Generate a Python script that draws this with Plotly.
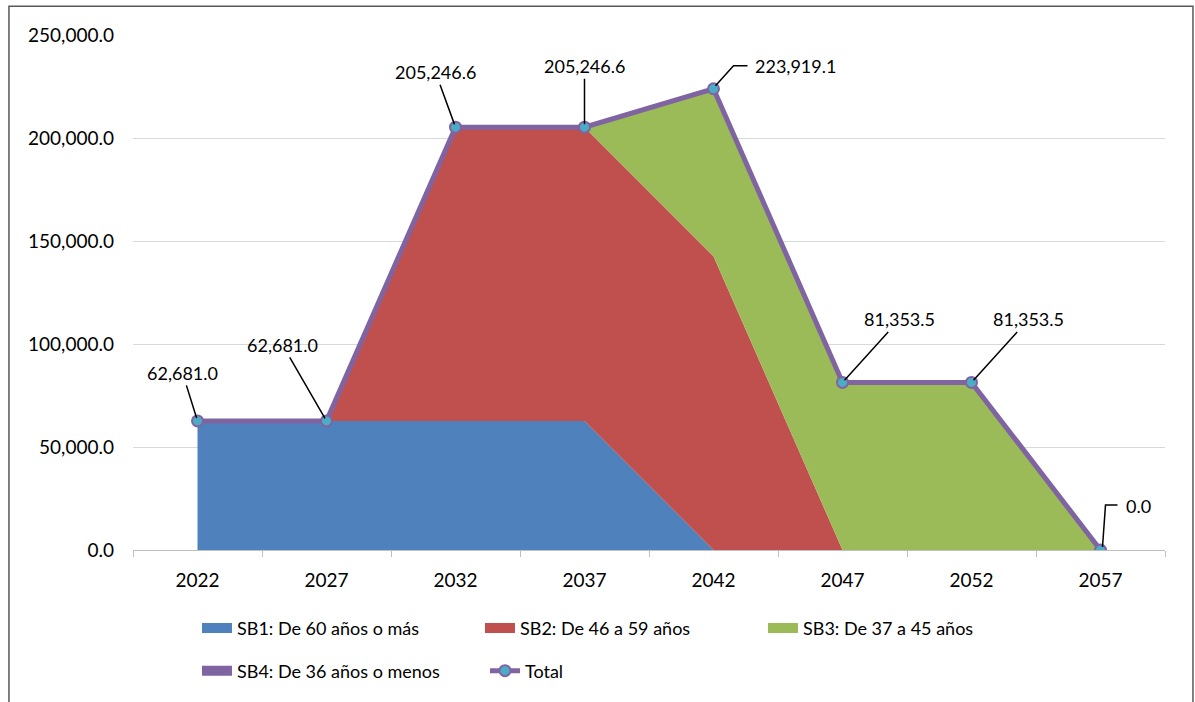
import plotly.graph_objects as go

years = ["2022", "2027", "2032", "2037", "2042", "2047", "2052", "2057"]
sb1 = [62681.0, 62681.0, 62681.0, 62681.0, 0.0, 0.0, 0.0, 0.0]
sb2 = [0.0, 0.0, 142565.6, 142565.6, 142565.6, 0.0, 0.0, 0.0]
sb3 = [0.0, 0.0, 0.0, 0.0, 81353.5, 81353.5, 81353.5, 0.0]
sb4 = [0.0, 0.0, 0.0, 0.0, 0.0, 0.0, 0.0, 0.0]
total = [62681.0, 62681.0, 205246.6, 205246.6, 223919.1, 81353.5, 81353.5, 0.0]

names = ["SB1: De 60 años o más", "SB2: De 46 a 59 años", "SB3: De 37 a 45 años", "SB4: De 36 años o menos"]
colors = ["#4F81BD", "#C0504D", "#9BBB59", "#8064A2"]

# label offsets (pixels) for the Total data labels; elbow = leader line with a bend
label_ax = [-15, -44, -20, 0, 82, 57, 57, 38]
label_ay = [-48, -76, -55, -61, -23, -63, -63, -44]
label_elbow = [False, False, False, False, True, False, False, True]
elbow_pts = {4: (20, 23, 34), 7: (5, 45, 17)}

FONT = "Lato"
FS = 18

fig = go.Figure()
for i, (nm, vals, c) in enumerate(zip(names, [sb1, sb2, sb3, sb4], colors)):
    fig.add_trace(go.Scatter(
        x=years, y=vals, name=nm, mode="lines", stackgroup="one",
        line=dict(width=0, color=c), fillcolor=c, hoverinfo="skip",
        showlegend=False, legendgroup=nm,
    ))
# legend entries (thick swatches)
for i, (nm, c) in enumerate(zip(names, colors)):
    fig.add_trace(go.Scatter(
        x=[None], y=[None], name=nm, mode="lines",
        line=dict(width=10, color=c), legendgroup=nm,
        legend="legend" if i < 3 else "legend2",
    ))

fig.add_trace(go.Scatter(
    x=years, y=total, name="Total", mode="lines+markers",
    line=dict(color="#8064A2", width=5),
    marker=dict(size=11, color="#4BACC6", line=dict(color="#8064A2", width=2)),
    legend="legend2",
))

for i, (yv, ax, ay, elb) in enumerate(zip(total, label_ax, label_ay, label_elbow)):
    txt = f"{yv:,.1f}"
    if elb:
        fig.add_annotation(
            x=i, y=yv, xref="x", yref="y", text=txt, showarrow=False,
            xshift=ax, yshift=-ay,
            font=dict(family=FONT, size=FS, color="black"),
        )
        ex, ey, hx = elbow_pts[i]
        fig.add_shape(
            type="path", xref="x", yref="y",
            xsizemode="pixel", ysizemode="pixel", xanchor=i, yanchor=yv,
            path=f"M2,3 L{ex},{ey} L{hx},{ey}",
            line=dict(color="black", width=1.5),
        )
    else:
        fig.add_annotation(
            x=i, y=yv, xref="x", yref="y", text=txt, showarrow=True, arrowhead=0,
            arrowwidth=1.5, arrowcolor="black", ax=ax, ay=ay,
            font=dict(family=FONT, size=FS, color="black"), standoff=3,
        )

fig.add_shape(type="rect", xref="paper", yref="paper",
              x0=-0.1202, x1=1.0271, y0=-0.33, y1=1.056,
              line=dict(color="#595959", width=1.5), fillcolor="rgba(0,0,0,0)", layer="below")

leg_common = dict(
    orientation="h", xanchor="left", yanchor="top",
    entrywidthmode="pixels", traceorder="normal",
    font=dict(family=FONT, size=FS, color="black"), itemwidth=30,
    bgcolor="rgba(0,0,0,0)",
)

fig.update_layout(
    width=1195, height=702,
    margin=dict(l=133, r=30, t=35, b=150),
    paper_bgcolor="white", plot_bgcolor="white",
    font=dict(family=FONT, size=FS, color="black"),
    showlegend=True,
    legend=dict(x=0.062, y=-0.116, entrywidth=238, **leg_common),
    legend2=dict(x=0.062, y=-0.199, entrywidth=243, **leg_common),
    xaxis=dict(
        type="category", range=[-0.5, 7.5], showgrid=False,
        showline=True, linecolor="#BFBFBF", linewidth=1,
        ticks="outside", tickson="boundaries", ticklen=6, tickcolor="#BFBFBF",
        ticklabelstandoff=13,
        tickfont=dict(family=FONT, size=19, color="black"),
    ),
    yaxis=dict(
        range=[0, 250000], dtick=50000, tickformat=",.1f",
        showgrid=True, gridcolor="#D9D9D9", gridwidth=1,
        zeroline=False, showline=False, ticks="",
        ticklabelstandoff=18,
        tickfont=dict(family=FONT, size=19, color="black"),
    ),
)

fig.write_html("out.html", config={"displayModeBar": False},
               post_script="document.body.style.margin='0';")
